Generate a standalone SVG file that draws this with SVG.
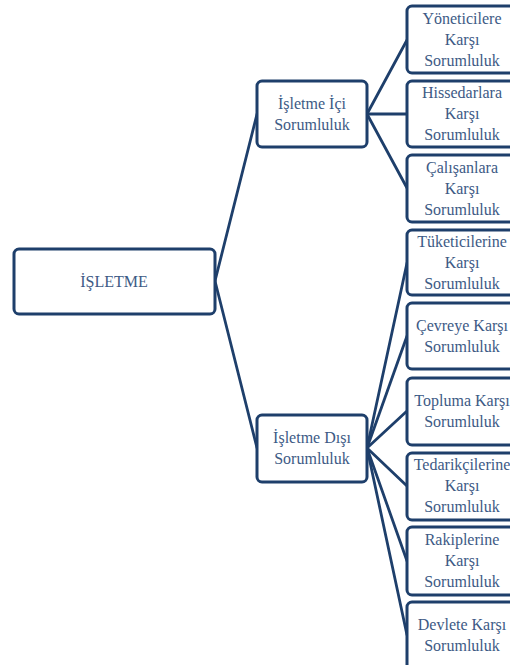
<svg xmlns="http://www.w3.org/2000/svg" width="510" height="665" viewBox="0 0 510 665">
<style>
.box{fill:#fff;stroke:#1e3f6b;stroke-width:3}
.t{font-family:"Liberation Serif","Times New Roman",serif;font-size:16px;fill:#3d5a85;text-anchor:middle}
.c{stroke:#1e3f6b;stroke-width:2.8;fill:none;stroke-linecap:round}
</style>
<rect width="510" height="665" fill="#fff"/>
<g id="connectors">
<line class="c" x1="215" y1="281" x2="257" y2="114"/>
<line class="c" x1="215" y1="281" x2="257" y2="448"/>
<line class="c" x1="367" y1="114" x2="407" y2="40"/>
<line class="c" x1="367" y1="114" x2="407" y2="114"/>
<line class="c" x1="367" y1="114" x2="407" y2="188"/>
<line class="c" x1="367" y1="448" x2="407" y2="263"/>
<line class="c" x1="367" y1="448" x2="407" y2="336"/>
<line class="c" x1="367" y1="448" x2="407" y2="411"/>
<line class="c" x1="367" y1="448" x2="407" y2="486"/>
<line class="c" x1="367" y1="448" x2="407" y2="561"/>
<line class="c" x1="367" y1="448" x2="407" y2="635"/>
</g>
<g id="root"><rect class="box" x="14" y="249" width="201" height="65" rx="5"/><text class="t" x="114" y="287">İŞLETME</text></g>
<g id="ic"><rect class="box" x="257" y="81" width="110" height="66" rx="5"/><text class="t" x="312" y="109">İşletme İçi</text><text class="t" x="312" y="130">Sorumluluk</text></g>
<g id="dis"><rect class="box" x="257" y="415" width="110" height="67" rx="5"/><text class="t" x="312" y="443">İşletme Dışı</text><text class="t" x="312" y="464">Sorumluluk</text></g>
<g id="n1"><rect class="box" x="407" y="6" width="112" height="67" rx="5"/><text class="t" x="462" y="24">Yöneticilere</text><text class="t" x="462" y="45">Karşı</text><text class="t" x="462" y="66">Sorumluluk</text></g>
<g id="n2"><rect class="box" x="407" y="81" width="112" height="66" rx="5"/><text class="t" x="462" y="98">Hissedarlara</text><text class="t" x="462" y="119">Karşı</text><text class="t" x="462" y="140">Sorumluluk</text></g>
<g id="n3"><rect class="box" x="407" y="155" width="112" height="67" rx="5"/><text class="t" x="462" y="173">Çalışanlara</text><text class="t" x="462" y="194">Karşı</text><text class="t" x="462" y="215">Sorumluluk</text></g>
<g id="n4"><rect class="box" x="407" y="230" width="112" height="65" rx="5"/><text class="t" x="462" y="247">Tüketicilerine</text><text class="t" x="462" y="268">Karşı</text><text class="t" x="462" y="289">Sorumluluk</text></g>
<g id="n5"><rect class="box" x="407" y="303" width="112" height="66" rx="5"/><text class="t" x="462" y="331">Çevreye Karşı</text><text class="t" x="462" y="352">Sorumluluk</text></g>
<g id="n6"><rect class="box" x="407" y="378" width="112" height="67" rx="5"/><text class="t" x="462" y="406">Topluma Karşı</text><text class="t" x="462" y="427">Sorumluluk</text></g>
<g id="n7"><rect class="box" x="407" y="453" width="112" height="67" rx="5"/><text class="t" x="462" y="470">Tedarikçilerine</text><text class="t" x="462" y="491">Karşı</text><text class="t" x="462" y="512">Sorumluluk</text></g>
<g id="n8"><rect class="box" x="407" y="527" width="112" height="68" rx="5"/><text class="t" x="462" y="545">Rakiplerine</text><text class="t" x="462" y="566">Karşı</text><text class="t" x="462" y="587">Sorumluluk</text></g>
<g id="n9"><rect class="box" x="407" y="602" width="112" height="68" rx="5"/><text class="t" x="462" y="630">Devlete Karşı</text><text class="t" x="462" y="651">Sorumluluk</text></g>
</svg>
